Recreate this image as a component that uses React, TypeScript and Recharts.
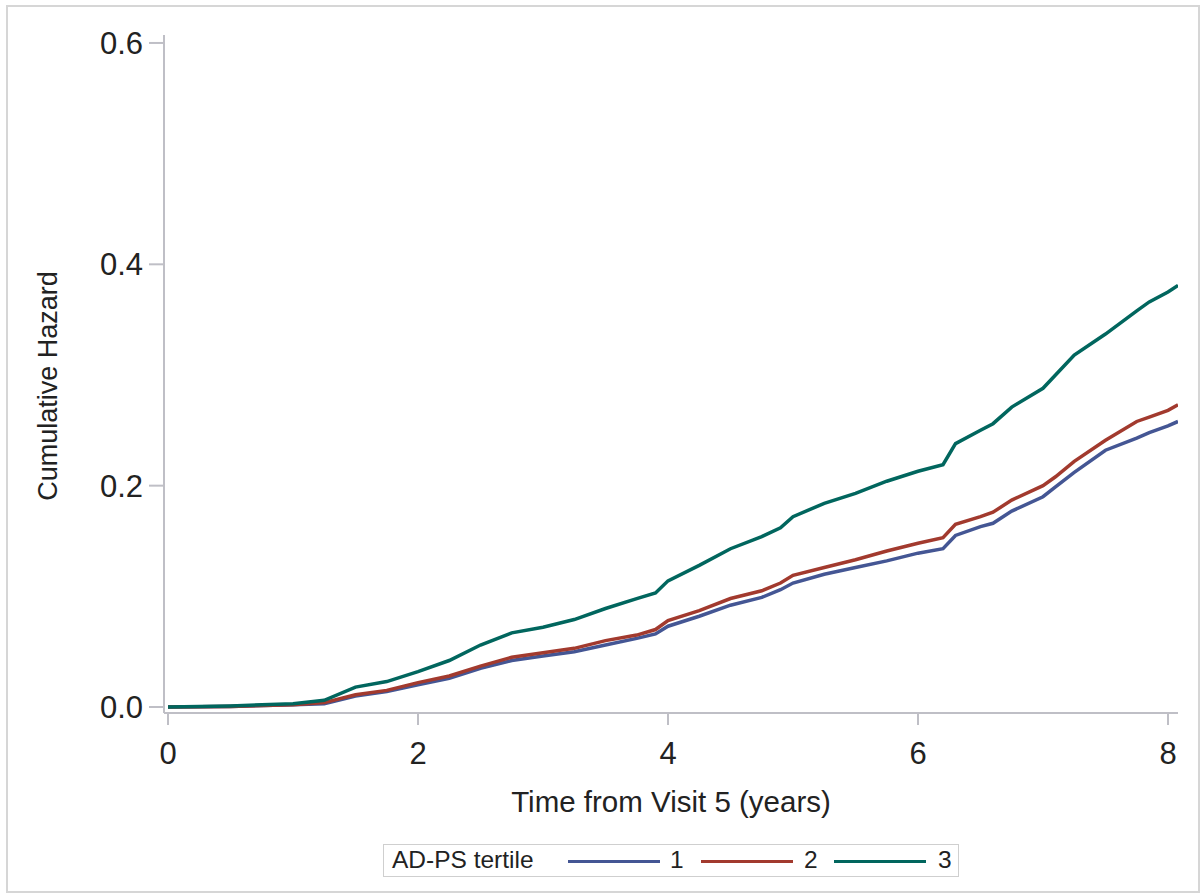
import { Label, Line, LineChart, XAxis, YAxis } from "recharts"

// time from visit 5 (years)
const years = [
  0, 0.5, 1, 1.25, 1.5, 1.75, 2, 2.25, 2.5, 2.75, 3, 3.25, 3.5, 3.75, 3.9, 4,
  4.25, 4.5, 4.75, 4.9, 5, 5.25, 5.5, 5.75, 6, 6.2, 6.3, 6.5, 6.6, 6.75, 7,
  7.1, 7.25, 7.5, 7.75, 7.85, 8, 8.08,
]

// cumulative hazard by AD-PS tertile
const tertile1 = [
  0, 0.0005, 0.002, 0.003, 0.01, 0.014, 0.02, 0.026, 0.035, 0.042, 0.046,
  0.05, 0.056, 0.062, 0.066, 0.073, 0.082, 0.092, 0.099, 0.106, 0.112, 0.12,
  0.126, 0.132, 0.139, 0.143, 0.155, 0.163, 0.166, 0.177, 0.19, 0.199, 0.212,
  0.232, 0.243, 0.248, 0.254, 0.258,
]
const tertile2 = [
  0, 0.0005, 0.002, 0.004, 0.011, 0.015, 0.022, 0.028, 0.037, 0.045, 0.049,
  0.053, 0.06, 0.065, 0.07, 0.078, 0.087, 0.098, 0.105, 0.112, 0.119, 0.126,
  0.133, 0.141, 0.148, 0.153, 0.165, 0.172, 0.176, 0.187, 0.2, 0.208, 0.222,
  0.241, 0.258, 0.262, 0.268, 0.273,
]
const tertile3 = [
  0, 0.001, 0.003, 0.006, 0.018, 0.023, 0.032, 0.042, 0.056, 0.067, 0.072,
  0.079, 0.089, 0.098, 0.103, 0.114, 0.128, 0.143, 0.154, 0.162, 0.172, 0.184,
  0.193, 0.204, 0.213, 0.219, 0.238, 0.25, 0.256, 0.271, 0.288, 0.3, 0.318,
  0.337, 0.358, 0.366, 0.375, 0.381,
]

const tertileNames = ["1", "2", "3"]
const xTicks = [0, 2, 4, 6, 8]
const yTicks = [0, 0.2, 0.4, 0.6]

const colors = ["#445694", "#A23A2E", "#01665E"]
const font = "'Liberation Sans', Arial, sans-serif"
const axisGray = "#BFBFC6"

const data = years.map((t, i) => ({
  t,
  s1: tertile1[i],
  s2: tertile2[i],
  s3: tertile3[i],
}))

function YTitle() {
  return (
    <text
      x={57}
      y={386}
      transform="rotate(-90 57 386)"
      textAnchor="middle"
      fontSize={27}
      fill="#222"
      fontFamily={font}
    >
      Cumulative Hazard
    </text>
  )
}

function App() {
  return (
    <div style={{ position: "absolute", left: 0, top: 0, width: 1203, height: 894, background: "#fff", fontFamily: font }}>
      <div
        style={{
          position: "absolute",
          left: 6,
          top: 5,
          width: 1190,
          height: 884,
          border: "2px solid #D6D6D6",
        }}
      />
      <LineChart
        width={1203}
        height={894}
        data={data}
        margin={{ top: 35, right: 25, bottom: 81, left: 0 }}
        style={{ position: "absolute", left: 0, top: 0 }}
      >
        <XAxis
          dataKey="t"
          type="number"
          domain={[-0.032, 8.08]}
          ticks={xTicks}
          allowDataOverflow
          height={100}
          tickSize={12}
          tickMargin={17}
          stroke={axisGray}
          strokeWidth={2}
          tick={{ fill: "#222", fontSize: 31, fontFamily: font }}
        >
          <Label
            value="Time from Visit 5 (years)"
            position="insideBottom"
            offset={1}
            fill="#222"
            fontSize={29.5}
            fontFamily={font}
          />
        </XAxis>
        <YAxis
          type="number"
          domain={[-0.00542, 0.6072]}
          ticks={yTicks}
          allowDataOverflow
          width={164}
          tickSize={15}
          tickMargin={6}
          tickFormatter={(v: number) => v.toFixed(1)}
          stroke={axisGray}
          strokeWidth={2}
          tick={{ fill: "#222", fontSize: 31, fontFamily: font }}
        >
          <Label content={<YTitle />} />
        </YAxis>
        {["s1", "s2", "s3"].map((k, i) => (
          <Line
            key={k}
            dataKey={k}
            name={tertileNames[i]}
            type="linear"
            stroke={colors[i]}
            strokeWidth={3.5}
            dot={false}
            isAnimationActive={false}
          />
        ))}
      </LineChart>
      <div
        style={{
          position: "absolute",
          left: 383,
          top: 844,
          width: 574,
          height: 31,
          border: "1.5px solid #CFCFCF",
          fontSize: 24.5,
          color: "#222",
        }}
      >
        <span style={{ position: "absolute", left: 8, top: 1 }}>AD-PS tertile</span>
        {tertileNames.map((n, i) => (
          <div key={n}>
            <div
              style={{
                position: "absolute",
                left: 184 + i * 133,
                top: 15,
                width: 92,
                height: 3,
                background: colors[i],
              }}
            />
            <span style={{ position: "absolute", left: 286 + i * 134, top: 1 }}>{n}</span>
          </div>
        ))}
      </div>
    </div>
  )
}

export default App
